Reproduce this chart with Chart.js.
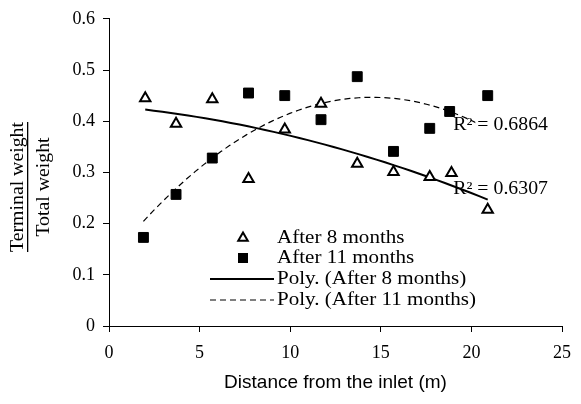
<!DOCTYPE html>
<html lang="en">
<head>
<meta charset="UTF-8">
<title>Terminal weight vs distance</title>
<script src="https://cdn.jsdelivr.net/npm/chart.js"></script>
<style>
  body { margin: 0; background: #fff; }
</style>
</head>
<body>
<canvas id="chart" width="581" height="404"></canvas>
<script>
// data
const distance8 = [2.0, 3.7, 5.7, 7.7, 9.7, 11.7, 13.7, 15.7, 17.7, 18.9, 20.9];
const after8 = [0.445, 0.395, 0.443, 0.287, 0.384, 0.434, 0.317, 0.301, 0.291, 0.299, 0.227];
const distance11 = [1.9, 3.7, 5.7, 7.7, 9.7, 11.7, 13.7, 15.7, 17.7, 18.8, 20.9];
const after11 = [0.173, 0.257, 0.328, 0.455, 0.450, 0.403, 0.487, 0.341, 0.386, 0.419, 0.450];
const seriesNames = ['After 8 months', 'After 11 months', 'Poly. (After 8 months)', 'Poly. (After 11 months)'];
const r2Text = ['R\u00b2 = 0.6307', 'R\u00b2 = 0.6864'];

const SERIF = '"Liberation Serif", "Times New Roman", serif';
const SANS = '"Liberation Sans", Arial, sans-serif';
const STRETCH = 1.1; // the original text is a little wider than Liberation Serif

// second order least squares, like the spreadsheet "Poly." trendline
function polyFit(xs, ys) {
  const s = [0, 0, 0, 0, 0], t = [0, 0, 0];
  xs.forEach((x, i) => {
    for (let k = 0; k < 5; k++) s[k] += Math.pow(x, k);
    for (let k = 0; k < 3; k++) t[k] += Math.pow(x, k) * ys[i];
  });
  const m = [[s[0], s[1], s[2], t[0]], [s[1], s[2], s[3], t[1]], [s[2], s[3], s[4], t[2]]];
  for (let c = 0; c < 3; c++) {
    for (let r = c + 1; r < 3; r++) {
      const f = m[r][c] / m[c][c];
      for (let k = c; k < 4; k++) m[r][k] -= f * m[c][k];
    }
  }
  const b = [0, 0, 0];
  for (let r = 2; r >= 0; r--) {
    let v = m[r][3];
    for (let k = r + 1; k < 3; k++) v -= m[r][k] * b[k];
    b[r] = v / m[r][r];
  }
  return b;
}

function trendPoints(xs, ys) {
  const b = polyFit(xs, ys);
  const lo = Math.min(...xs), hi = Math.max(...xs);
  const pts = [];
  for (let i = 0; i <= 40; i++) {
    const x = lo + (hi - lo) * i / 40;
    pts.push({ x: x, y: b[0] + b[1] * x + b[2] * x * x });
  }
  return pts;
}

const toXY = (xs, ys) => xs.map((x, i) => ({ x: x, y: ys[i] }));

function wideText(ctx, txt, x, y, sx) {
  ctx.save();
  ctx.translate(x, y);
  ctx.scale(sx || STRETCH, 1);
  ctx.fillText(txt, 0, 0);
  ctx.restore();
}

// R² labels, legend and the fraction y title
const extras = {
  id: 'extras',
  afterDatasetsDraw(chart) {
    const ctx = chart.ctx;
    const xs = chart.scales.x, ys = chart.scales.y;
    ctx.save();
    ctx.font = '18px ' + SERIF;
    ctx.textBaseline = 'middle';
    ctx.textAlign = 'left';
    ctx.fillStyle = '#000';

    // lower label sits over the solid line, upper one hides the dashed line end
    const px = xs.getPixelForValue(19.0);
    let py = ys.getPixelForValue(0.267);
    wideText(ctx, r2Text[0], px, py);
    py = ys.getPixelForValue(0.392);
    const w = ctx.measureText(r2Text[1]).width * STRETCH;
    ctx.fillStyle = '#fff';
    ctx.fillRect(px + 22, py - 7, w - 22, 14);
    ctx.fillStyle = '#000';
    wideText(ctx, r2Text[1], px, py);

    // legend
    const sets = chart.data.datasets;
    const lx = 243, tx = 277;
    const rows = [238, 258, 279, 300];
    rows.forEach((ry, i) => {
      const ds = sets[i];
      if (i === 0) {
        ctx.fillStyle = '#fff'; ctx.strokeStyle = '#000'; ctx.lineWidth = 2;
        const r = 5.5;
        ctx.beginPath();
        ctx.moveTo(lx, ry - r);
        ctx.lineTo(lx + r * 0.866, ry + r / 2);
        ctx.lineTo(lx - r * 0.866, ry + r / 2);
        ctx.closePath();
        ctx.fill(); ctx.stroke();
      } else if (i === 1) {
        ctx.fillStyle = '#000';
        ctx.fillRect(lx - 5, ry - 5, 10, 10);
      } else {
        ctx.strokeStyle = '#000';
        ctx.lineWidth = ds.borderWidth;
        ctx.setLineDash(ds.borderDash || []);
        ctx.beginPath();
        ctx.moveTo(210, ry);
        ctx.lineTo(274, ry);
        ctx.stroke();
        ctx.setLineDash([]);
      }
      ctx.fillStyle = '#000';
      wideText(ctx, ds.label, tx, ry, 1.17);
    });

    // y title drawn as a fraction
    ctx.textAlign = 'center';
    const w1 = ctx.measureText('Terminal weight').width * STRETCH;
    [[18, 'Terminal weight'], [44, 'Total weight']].forEach(([cx, txt]) => {
      ctx.save();
      ctx.translate(cx, 187);
      ctx.rotate(-Math.PI / 2);
      ctx.scale(STRETCH, 1);
      ctx.fillText(txt, 0, 0);
      ctx.restore();
    });
    ctx.fillRect(27, 187 - w1 / 2, 1.3, w1);
    ctx.restore();
  }
};

new Chart(document.getElementById('chart'), {
  type: 'scatter',
  data: {
    datasets: [
      {
        label: seriesNames[0],
        data: toXY(distance8, after8),
        pointStyle: 'triangle',
        pointRadius: 6,
        pointBorderWidth: 2,
        pointBorderColor: '#000',
        pointBackgroundColor: '#fff',
        showLine: false
      },
      {
        label: seriesNames[1],
        data: toXY(distance11, after11),
        pointStyle: 'rect',
        pointRadius: 7,
        pointBorderWidth: 1,
        pointBorderColor: '#000',
        pointBackgroundColor: '#000',
        showLine: false
      },
      {
        label: seriesNames[2],
        data: trendPoints(distance8, after8),
        showLine: true,
        borderColor: '#000',
        borderWidth: 2,
        pointRadius: 0,
        tension: 0
      },
      {
        label: seriesNames[3],
        data: trendPoints(distance11, after11),
        showLine: true,
        borderColor: '#000',
        borderWidth: 1.2,
        borderDash: [6, 4],
        pointRadius: 0,
        tension: 0
      }
    ]
  },
  options: {
    responsive: false,
    animation: false,
    layout: { padding: { left: 0, right: 12, top: 15, bottom: 0 } },
    plugins: { legend: { display: false }, tooltip: { enabled: false } },
    scales: {
      x: {
        type: 'linear',
        min: 0, max: 25,
        afterFit: s => { s.height = 78; },
        ticks: { stepSize: 5, color: '#000', padding: 10, font: { family: SERIF, size: 18 } },
        grid: { drawOnChartArea: false, drawTicks: true, tickLength: 6, color: '#000' },
        border: { color: '#000', width: 1 },
        title: { display: true, text: 'Distance from the inlet (m)', color: '#000', font: { family: SANS, size: 19 }, padding: { top: 4, bottom: 10 } }
      },
      y: {
        min: 0, max: 0.6,
        afterFit: s => { s.width = 109; },
        ticks: { stepSize: 0.1, color: '#000', padding: 8, font: { family: SERIF, size: 18 } },
        grid: { drawOnChartArea: false, drawTicks: true, tickLength: 6, color: '#000' },
        border: { color: '#000', width: 1 }
      }
    }
  },
  plugins: [extras]
});
</script>
</body>
</html>
